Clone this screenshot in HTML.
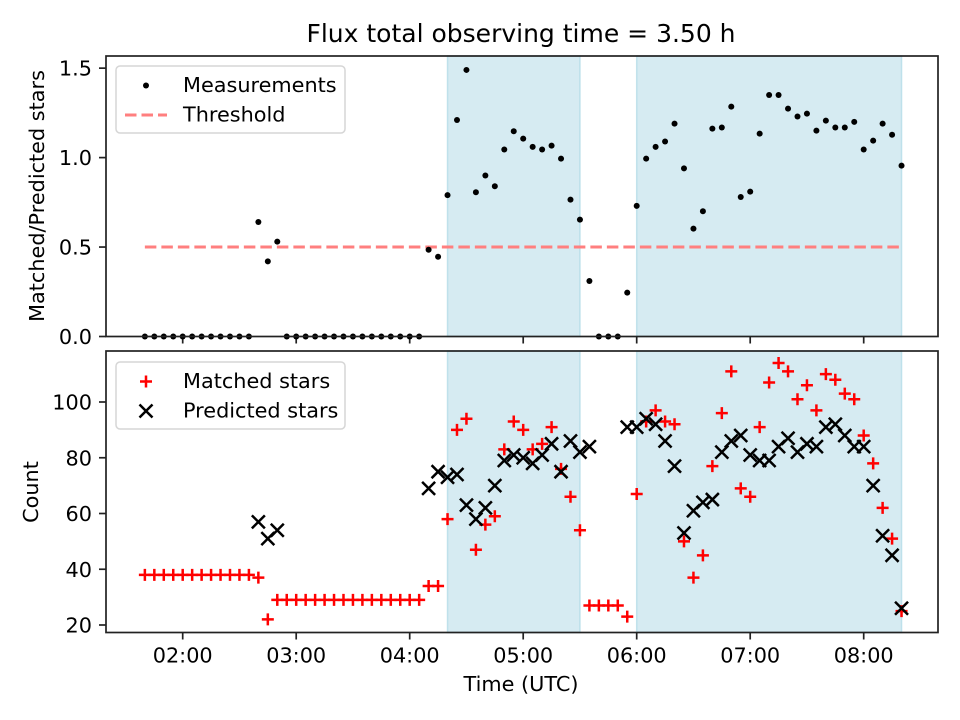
<!DOCTYPE html>
<html><head><meta charset="utf-8"><style>
html,body{margin:0;padding:0;background:#fff;}
svg{display:block;font-family:"DejaVu Sans","Liberation Sans",sans-serif;}
</style></head><body>
<svg id="chart" width="960" height="720" viewBox="0 0 960 720">
<text x="521" y="42" text-anchor="middle" font-size="25">Flux total observing time = 3.50 h</text>
<g id="topPanel"></g>
<g id="botPanel"></g>
<text transform="translate(44,196) rotate(-90)" text-anchor="middle" font-size="20.8">Matched/Predicted stars</text>
<text transform="translate(38,492) rotate(-90)" text-anchor="middle" font-size="20.8">Count</text>
<text x="521" y="691" text-anchor="middle" font-size="20.8">Time (UTC)</text>
</svg>
<script>
const times = ["01:40","01:45","01:50","01:55","02:00","02:05","02:10","02:15","02:20","02:25","02:30","02:35","02:40","02:45","02:50","02:55","03:00","03:05","03:10","03:15","03:20","03:25","03:30","03:35","03:40","03:45","03:50","03:55","04:00","04:05","04:10","04:15","04:20","04:25","04:30","04:35","04:40","04:45","04:50","04:55","05:00","05:05","05:10","05:15","05:20","05:25","05:30","05:35","05:40","05:45","05:50","05:55","06:00","06:05","06:10","06:15","06:20","06:25","06:30","06:35","06:40","06:45","06:50","06:55","07:00","07:05","07:10","07:15","07:20","07:25","07:30","07:35","07:40","07:45","07:50","07:55","08:00","08:05","08:10","08:15","08:20"];
const ratio = [0,0,0,0,0,0,0,0,0,0,0,0,0.64,0.42,0.53,0,0,0,0,0,0,0,0,0,0,0,0,0,0,0,0.485,0.446,0.79,1.21,1.49,0.806,0.90,0.84,1.045,1.147,1.106,1.06,1.045,1.067,0.994,0.765,0.653,0.31,0,0,0,0.245,0.73,0.994,1.06,1.09,1.19,0.94,0.603,0.70,1.162,1.168,1.285,0.78,0.81,1.134,1.35,1.35,1.274,1.23,1.246,1.151,1.207,1.168,1.168,1.20,1.045,1.095,1.19,1.128,0.955];
const matched = [38,38,38,38,38,38,38,38,38,38,38,38,37,22,29,29,29,29,29,29,29,29,29,29,29,29,29,29,29,29,34,34,58,90,94,47,56,59,83,93,90,83,85,91,76,66,54,27,27,27,27,23,67,93,97,93,92,50,37,45,77,96,111,69,66,91,107,114,111,101,106,97,110,108,103,101,88,78,62,51,25];
const predicted = [null,null,null,null,null,null,null,null,null,null,null,null,57,51,54,null,null,null,null,null,null,null,null,null,null,null,null,null,null,null,69,75,73,74,63,58,62,70,79,81,80,78,81,85,75,86,82,84,null,null,null,91,91,94,92,86,77,53,61,64,65,82,86,88,81,79,79,84,87,82,85,84,91,92,88,84,84,70,52,45,26];
const shadeStart = ["04:20","06:00"];
const shadeEnd = ["05:30","08:20"];
const threshold = 0.5;
const xTicks = ["02:00","03:00","04:00","05:00","06:00","07:00","08:00"];
const topTicks = [0.0,0.5,1.0,1.5];
const botTicks = [20,40,60,80,100];

const NS="http://www.w3.org/2000/svg";
const L=106,R=938,FS=20.8;
function hrs(s){const p=s.split(":");return +p[0]+ +p[1]/60;}
function xs(s){return 182.7+(hrs(s)-2)*113.5;}
const T={top:56,bot:336.5,y:v=>336.5-v*178.9};
const B={top:351,bot:632.5,y:v=>625-(v-20)*2.7875};
function el(tag,attrs,parent){const e=document.createElementNS(NS,tag);for(const k in attrs)e.setAttribute(k,attrs[k]);parent.appendChild(e);return e;}

function panel(g,P,ticks,fmt,showX){
  shadeStart.forEach((s,i)=>{
    const r=el('rect',{x:xs(s),y:P.top,width:xs(shadeEnd[i])-xs(s),height:P.bot-P.top,fill:'#add8e6','fill-opacity':0.5,stroke:'#add8e6','stroke-opacity':0.7,'stroke-width':1.5},g);
    
    
  });
  ticks.forEach(t=>{
    const y=P.y(t);
    el('line',{x1:L-7,x2:L,y1:y,y2:y,stroke:'#222','stroke-width':1.7},g);
    const tx=el('text',{x:L-14,y:y+7.5,'text-anchor':'end','font-size':FS},g);tx.textContent=fmt(t);
    
    
  });
  xTicks.forEach(t=>{
    const x=xs(t);
    el('line',{x1:x,x2:x,y1:P.bot,y2:P.bot+7,stroke:'#222','stroke-width':1.7},g);
    if(showX){const tx=el('text',{x:x,y:P.bot+30,'text-anchor':'middle','font-size':FS},g);tx.textContent=t;
      
      }
  });
}
const topG=document.getElementById('topPanel'),botG=document.getElementById('botPanel');
panel(topG,T,topTicks,v=>v.toFixed(1),false);
panel(botG,B,botTicks,v=>String(v),true);

const th=el('line',{x1:xs(times[0]),x2:xs(times[times.length-1]),y1:T.y(threshold),y2:T.y(threshold),stroke:'#ff7f7f','stroke-width':3,'stroke-dasharray':'11.5,5'},topG);


ratio.forEach((v,i)=>{
  const c=el('circle',{cx:xs(times[i]),cy:T.y(v),r:3,fill:'#000'},topG);
  
  
});
matched.forEach((v,i)=>{
  const x=xs(times[i]),y=B.y(v);
  const p=el('path',{d:`M${x-6},${y}H${x+6}M${x},${y-6}V${y+6}`,stroke:'#ff0000','stroke-width':2.5},botG);
  
  
});
predicted.forEach((v,i)=>{
  if(v===null)return;
  const x=xs(times[i]),y=B.y(v),d=6.5;
  const p=el('path',{d:`M${x-d},${y-d}L${x+d},${y+d}M${x-d},${y+d}L${x+d},${y-d}`,stroke:'#000','stroke-width':2.5},botG);
  
  
});
[[topG,T],[botG,B]].forEach(([g,P])=>{
  const f=el('rect',{x:L,y:P.top,width:R-L,height:P.bot-P.top,fill:'none',stroke:'#222','stroke-width':1.7},g);
  
  
});
function legend(g,y0,items){
  const box=el('rect',{x:116,y:y0,width:229,height:67,rx:4,fill:'#fff','fill-opacity':0.85,stroke:'#d6d6d6','stroke-width':1.5},g);
  
  
  items.forEach((it,k)=>{
    const y=y0+19.5+k*29.5;
    it.draw(146,y);
    const t=el('text',{x:183,y:y+6.5,'font-size':FS},g);t.textContent=it.label;
    
    
  });
}
legend(topG,66,[
  {label:'Measurements',draw:(x,y)=>el('circle',{cx:x,cy:y,r:3,fill:'#000'},topG)},
  {label:'Threshold',draw:(x,y)=>el('line',{x1:125,x2:167,y1:y,y2:y,stroke:'#ff7f7f','stroke-width':3,'stroke-dasharray':'11.5,5'},topG)}
]);
legend(botG,362,[
  {label:'Matched stars',draw:(x,y)=>el('path',{d:`M${x-6},${y}H${x+6}M${x},${y-6}V${y+6}`,stroke:'#ff0000','stroke-width':2.5},botG)},
  {label:'Predicted stars',draw:(x,y)=>el('path',{d:`M${x-6.5},${y-6.5}L${x+6.5},${y+6.5}M${x-6.5},${y+6.5}L${x+6.5},${y-6.5}`,stroke:'#000','stroke-width':2.5},botG)}
]);
</script>
</body></html>
